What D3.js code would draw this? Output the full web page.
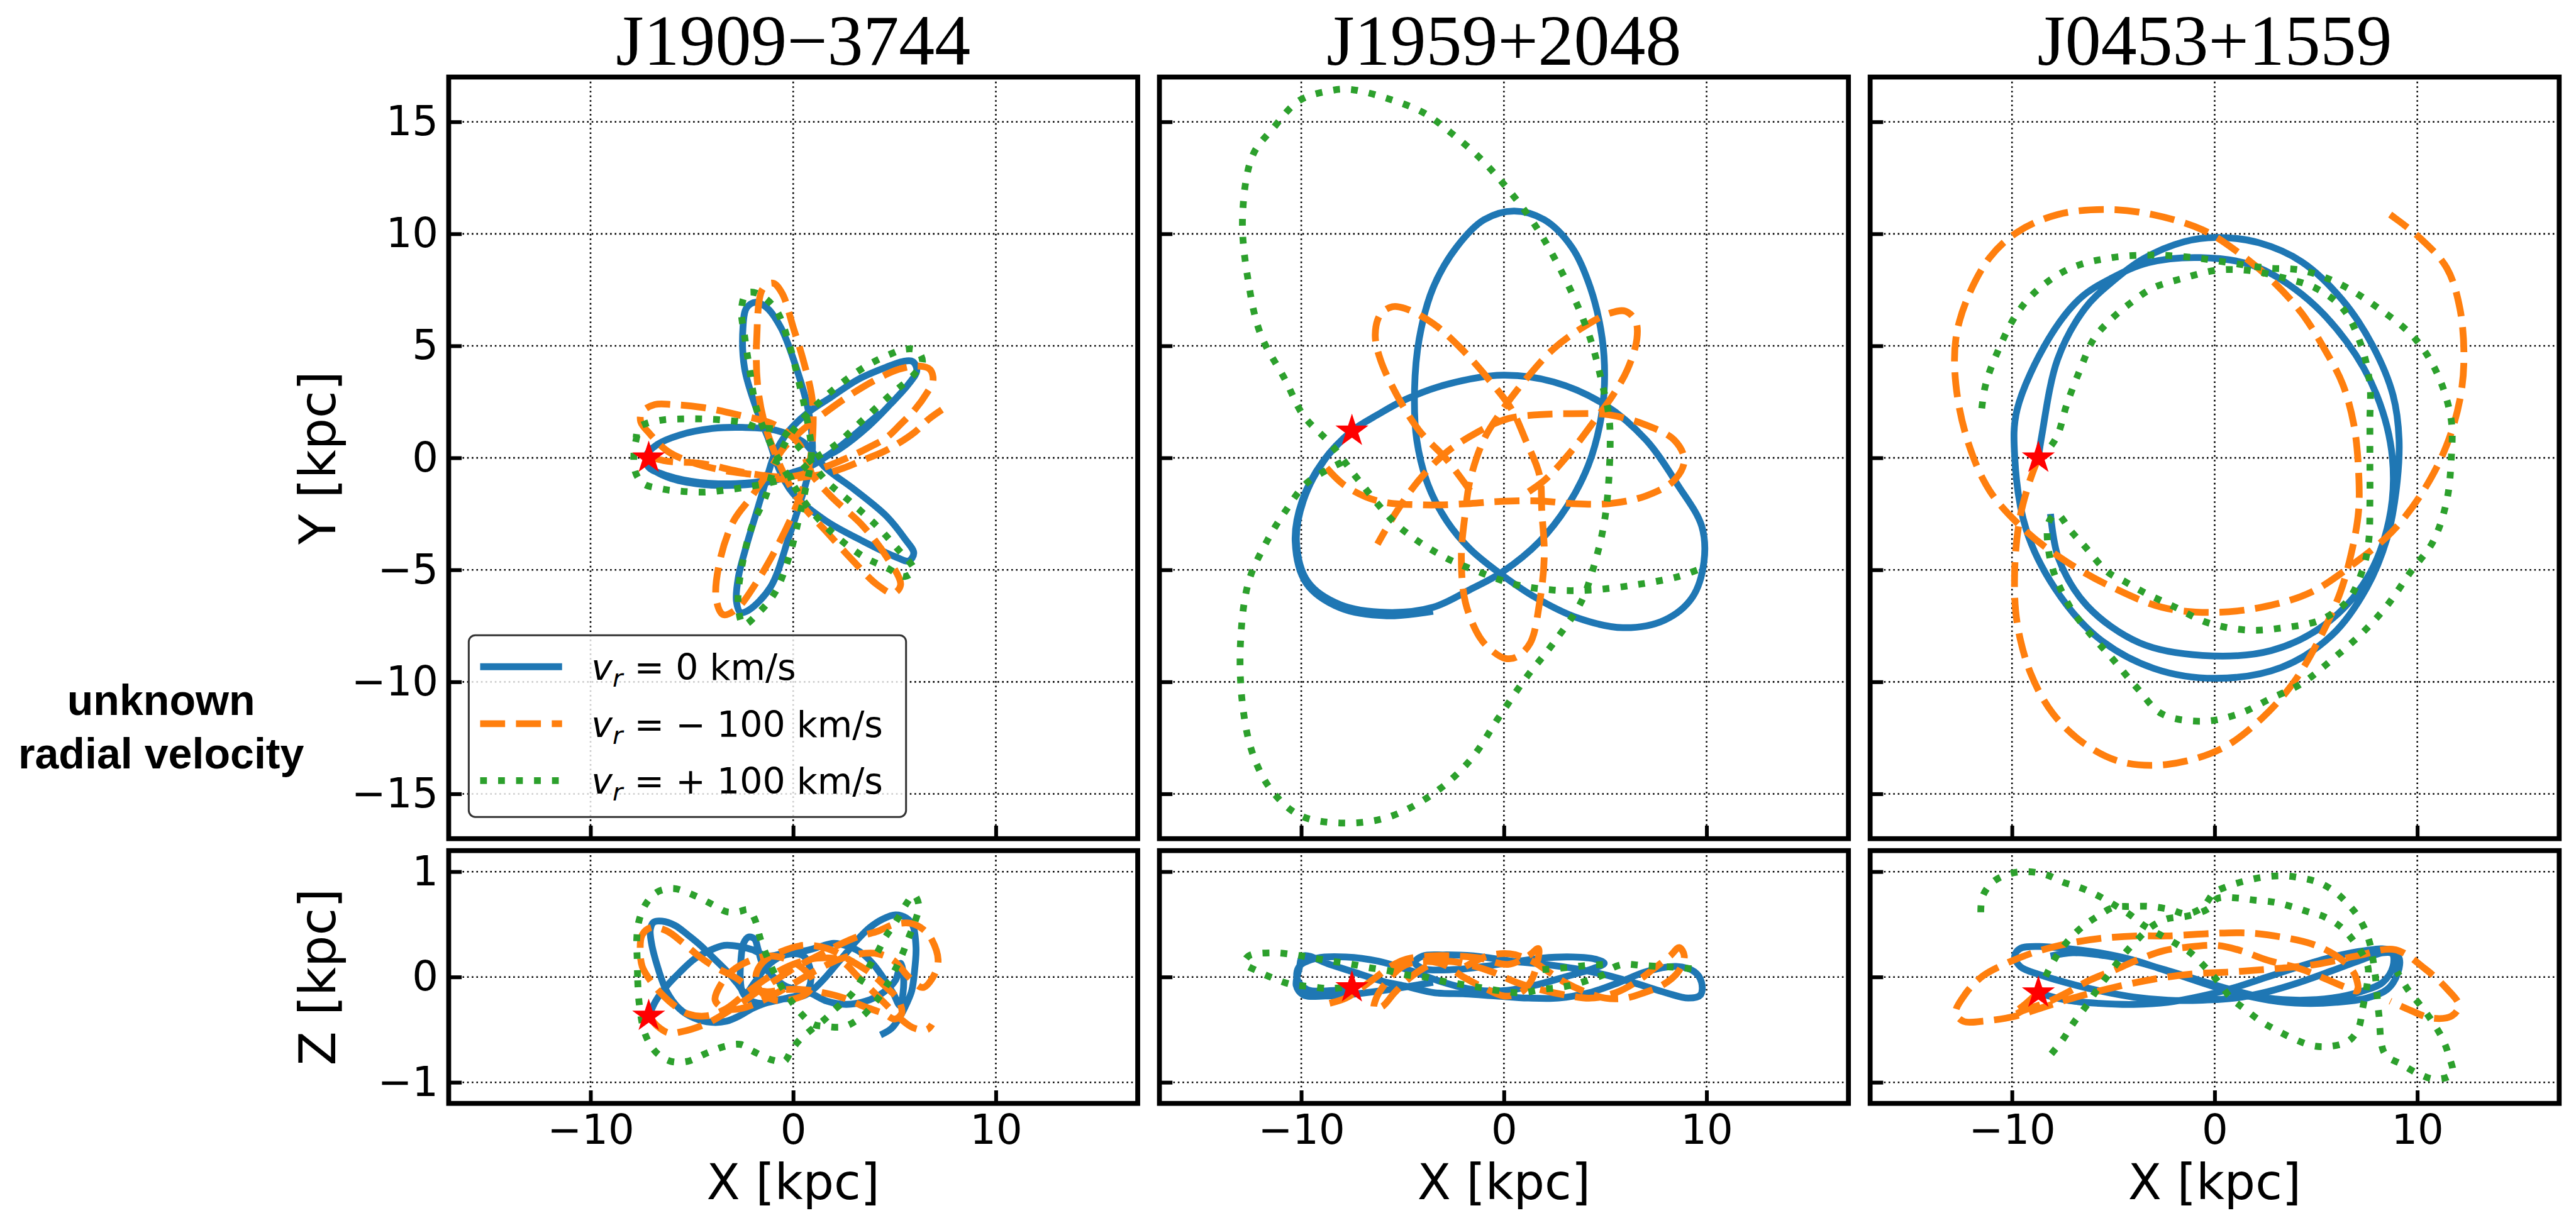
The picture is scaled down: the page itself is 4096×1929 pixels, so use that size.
<!DOCTYPE html>
<html>
<head>
<meta charset="utf-8">
<script src="https://cdn.jsdelivr.net/npm/d3@7"></script>
<style>
  body { margin: 0; background: #fff; }
</style>
</head>
<body>
<svg id="fig"></svg>
<script>
// ---- ticks / labels ----
var titles = ["J1909\u22123744", "J1959+2048", "J0453+1559"];
var xTicks = [-10, 0, 10];
var yTicks = [-15, -10, -5, 0, 5, 10, 15];
var zTicks = [-1, 0, 1];
var legendLabels = ["0", "\u2212 100", "+ 100"];
var seriesColors = ["#1f77b4", "#ff7f0e", "#2ca02c"];

// pulsar positions (x, y, z) in kpc
var stars = [[-7.13, 0.0, -0.37], [-7.5, 1.2, -0.1], [-8.7, 0.0, -0.15]];

// ---- J1909-3744 ----
var j1909_xy_0 = [[[-7.2,0.0],[-7.0,-0.45],[-6.15,-0.88],[-4.55,-1.18],[-2.72,-1.22],[-1.35,-1.1],[-0.3,-0.85],[0.5,-0.6],[1.3,-0.1],[2.3,0.4],[3.7,1.4],[4.8,2.4],[5.7,3.3],[6.1,3.9],[5.9,4.3],[5.4,4.3],[4.6,4.05],[3.2,3.5],[1.85,2.7],[0.7,2.0],[-0.3,1.1],[-0.9,0.2],[-1.3,-0.9],[-1.8,-2.4],[-2.3,-3.9],[-2.7,-5.3],[-2.8,-6.4],[-2.6,-6.9],[-2.2,-6.8],[-1.12,-5.77],[-0.2,-3.5],[0.37,-1.92],[0.75,-0.7],[0.95,0.4],[0.75,2.1],[0.05,4.3],[-0.6,5.8],[-1.3,6.7],[-1.85,6.95],[-2.3,6.7],[-2.48,5.8],[-2.4,4.0],[-1.8,2.15],[-1.2,0.8],[-0.7,-0.5],[0.0,-1.6],[1.6,-2.8],[3.4,-3.7],[5.0,-4.4],[5.7,-4.6],[5.95,-4.25],[5.5,-3.6],[4.6,-2.6],[3.0,-1.4],[1.6,-0.45],[0.5,0.7],[-0.8,1.22],[-2.5,1.36],[-4.0,1.31],[-5.6,1.02],[-6.7,0.6],[-7.25,0.1],[-7.15,-0.4],[-6.2,-0.8],[-4.6,-1.1],[-2.8,-1.15],[-1.3,-1.0],[-0.2,-0.7],[0.9,-0.35],[2.3,0.5],[3.5,1.4],[4.3,2.0]]];
var j1909_xy_m100 = [[[-7.13,0.05],[-6.2,-0.15],[-4.55,-0.25],[-2.72,-0.6],[-1.35,-0.8],[-0.2,-0.85],[0.6,-0.7],[1.6,-0.4],[2.8,0.05],[3.7,0.45],[4.6,0.9],[5.3,1.5],[6.0,2.15],[6.6,2.9],[6.9,3.45],[6.75,3.95],[6.2,4.1],[5.2,3.95],[4.1,3.5],[2.8,2.8],[1.4,1.9],[0.4,1.2],[-0.5,0.4],[-1.2,-0.6],[-2.03,-1.7],[-2.95,-2.83],[-3.63,-4.64],[-3.8,-6.3],[-3.45,-7.0],[-2.8,-6.75],[-1.8,-5.54],[-0.66,-3.73],[0.25,-1.92],[0.75,-0.5],[0.95,0.8],[0.94,2.6],[0.48,4.41],[0.02,5.77],[-0.55,7.35],[-1.0,7.8],[-1.5,7.55],[-1.8,5.32],[-1.76,3.28],[-1.46,1.7],[-0.9,0.2],[-0.3,-1.0],[0.48,-2.15],[1.62,-3.28],[3.0,-4.64],[4.14,-5.66],[4.94,-6.05],[5.3,-5.66],[4.6,-4.41],[3.45,-3.05],[1.85,-1.7],[0.9,-0.7],[0.3,0.6],[-0.9,1.47],[-2.72,1.92],[-4.55,2.26],[-5.92,2.38],[-6.83,2.38],[-7.47,2.04],[-7.52,1.6],[-7.1,1.1],[-6.2,0.3],[-5.0,-0.2],[-3.5,-0.55],[-2.0,-0.75],[-0.6,-0.95],[0.6,-0.85],[1.6,-0.7],[2.5,-0.45],[3.45,-0.1],[4.4,0.25],[5.05,0.57],[6.0,1.15],[6.65,1.7],[7.34,2.15]]];
var j1909_xy_p100 = [[[-7.7,1.0],[-7.85,0.3],[-7.8,-0.6],[-7.4,-1.15],[-6.4,-1.4],[-5.4,-1.5],[-4.4,-1.53],[-3.4,-1.45],[-2.3,-1.3],[-1.1,-1.1],[0.1,-0.75],[0.94,-0.11],[2.08,0.57],[3.45,1.7],[4.82,2.83],[5.97,3.73],[6.38,4.3],[6.1,4.8],[5.5,4.85],[4.82,4.64],[3.68,4.14],[2.31,3.28],[1.17,2.38],[-0.1,1.1],[-0.9,-0.3],[-1.35,-1.7],[-2.03,-3.05],[-2.49,-4.64],[-2.72,-6.45],[-2.45,-7.45],[-1.8,-7.0],[-0.89,-6.0],[-0.2,-4.41],[0.25,-2.83],[0.59,-1.47],[0.9,0.2],[0.59,2.15],[0.25,3.5],[-0.2,5.09],[-0.89,6.67],[-1.8,7.35],[-2.3,7.35],[-2.55,6.67],[-2.38,5.32],[-2.15,3.96],[-1.8,2.15],[-1.1,0.6],[-0.2,-0.9],[0.71,-2.15],[1.85,-3.28],[3.45,-4.4],[4.6,-4.9],[5.5,-5.3],[5.95,-5.0],[5.6,-4.5],[5.28,-4.19],[4.14,-3.05],[2.77,-1.92],[1.62,-1.02],[0.5,0.25],[-0.6,1.2],[-1.8,1.36],[-2.49,1.58],[-3.63,1.7],[-4.55,1.74],[-5.46,1.74],[-6.38,1.7],[-7.2,1.55],[-7.63,1.36],[-7.75,0.9]]];

var j1909_xz_0 = [[[-7.12,-0.37],[-6.79,-0.23],[-6.26,-0.09],[-5.62,0.04],[-4.88,0.17],[-4.14,0.25],[-3.40,0.30],[-2.66,0.29],[-2.03,0.26],[-1.3,0.2],[-0.6,0.22],[0.0,0.25],[0.6,0.25],[1.35,0.29],[1.99,0.32],[2.73,0.29],[3.36,0.23],[4.0,0.11],[4.52,-0.03],[4.95,-0.16],[5.26,-0.27],[5.42,-0.15],[5.42,0.05],[5.3,0.13],[5.05,-0.03],[4.42,-0.15],[3.57,-0.23],[2.62,-0.26],[1.67,-0.23],[0.82,-0.15],[0.3,-0.12],[-0.34,-0.09],[-0.97,0.0],[-1.5,0.12],[-1.73,0.26],[-1.9,0.36],[-2.19,0.38],[-2.45,0.32],[-2.58,0.16],[-2.61,-0.01],[-2.51,-0.14],[-2.14,-0.22],[-1.61,-0.25],[-0.97,-0.23],[-0.3,-0.2],[0.3,-0.17],[0.72,-0.12],[0.88,-0.01],[0.77,0.12],[0.51,0.2],[-0.13,0.22],[-0.76,0.18],[-1.4,0.08],[-1.9,-0.05],[-2.35,-0.15],[-2.77,-0.06],[-3.3,0.06],[-3.93,0.18],[-4.57,0.30],[-5.2,0.40],[-5.84,0.49],[-6.47,0.53],[-6.89,0.52],[-7.05,0.45],[-7.0,0.33],[-6.79,0.16],[-6.26,-0.13],[-5.62,-0.30],[-4.88,-0.39],[-4.04,-0.43],[-3.3,-0.42],[-2.66,-0.37],[-2.03,-0.30],[-1.4,-0.25],[-0.55,-0.21],[0.08,-0.2],[0.61,-0.17],[1.04,-0.11],[1.56,-0.01],[2.09,0.11],[2.62,0.23],[3.15,0.35],[3.78,0.47],[4.42,0.55],[5.05,0.59],[5.58,0.56],[5.9,0.49],[6.06,0.28],[6.0,0.08],[5.85,-0.13],[5.58,-0.26],[5.26,-0.38],[4.84,-0.49],[4.31,-0.55]]];
var j1909_xz_m100 = [[[-7.13,-0.37],[-6.68,-0.47],[-6.15,-0.53],[-5.52,-0.52],[-4.36,-0.45],[-3.5,-0.36],[-2.6,-0.25],[-1.7,-0.13],[-0.8,-0.02],[0.2,0.1],[1.2,0.2],[2.2,0.3],[3.15,0.38],[4.1,0.43],[5.0,0.5],[5.8,0.51],[6.43,0.45],[6.85,0.35],[7.15,0.15],[6.9,0.0],[6.4,-0.1],[5.7,0.0],[5.0,0.15],[4.2,0.22],[3.3,0.22],[2.3,0.17],[1.3,0.08],[0.3,-0.03],[-0.7,-0.14],[-1.7,-0.24],[-2.6,-0.3],[-3.4,-0.3],[-3.85,-0.22],[-3.6,-0.08],[-3.0,0.06],[-2.2,0.15],[-1.2,0.2],[-0.2,0.16],[0.6,0.06],[1.0,-0.05],[0.7,-0.15],[0.0,-0.21],[-0.9,-0.22],[-1.6,-0.14],[-1.85,0.0],[-1.5,0.14],[-0.6,0.24],[0.5,0.3],[1.7,0.27],[2.8,0.16],[3.8,0.04],[4.6,-0.1],[5.2,-0.22],[5.35,-0.35],[5.0,-0.4],[4.5,-0.35],[3.5,-0.28],[2.5,-0.2],[1.5,-0.15],[0.5,-0.12],[-0.5,-0.12],[-1.3,-0.14],[-2.1,-0.1],[-2.9,0.0],[-3.9,0.1],[-4.67,0.2],[-5.41,0.32],[-6.26,0.44],[-7.0,0.47],[-7.45,0.4],[-7.55,0.25],[-7.45,0.1],[-7.1,-0.02],[-6.5,-0.16],[-5.8,-0.28],[-5.2,-0.35],[-4.3,-0.37],[-3.3,-0.3],[-2.3,-0.15],[-1.2,0.0],[0.0,0.12],[1.2,0.18],[2.3,0.16],[3.26,-0.01],[4.52,-0.25],[5.2,-0.38],[5.9,-0.48],[6.6,-0.5],[6.85,-0.45]]];
var j1909_xz_p100 = [[[-7.68,0.0],[-7.7,0.18],[-7.72,0.36],[-7.6,0.54],[-7.25,0.7],[-6.68,0.81],[-5.9,0.84],[-5.2,0.8],[-4.5,0.74],[-3.9,0.68],[-3.3,0.62],[-2.7,0.62],[-2.2,0.64],[-1.9,0.55],[-1.6,0.35],[-1.2,0.15],[-0.7,-0.05],[-0.2,-0.2],[0.4,-0.35],[1.0,-0.45],[1.67,-0.47],[2.52,-0.47],[3.36,-0.38],[4.0,-0.25],[4.52,-0.11],[4.95,0.04],[5.37,0.21],[5.69,0.37],[6.0,0.52],[6.2,0.68],[5.95,0.78],[5.6,0.7],[5.3,0.6],[4.95,0.49],[4.52,0.37],[4.2,0.25],[3.78,0.11],[3.36,-0.03],[2.94,-0.15],[2.52,-0.23],[2.09,-0.3],[1.56,-0.4],[0.9,-0.5],[0.3,-0.6],[-0.1,-0.7],[-0.44,-0.8],[-1.0,-0.79],[-1.4,-0.76],[-2.03,-0.7],[-2.6,-0.64],[-3.4,-0.66],[-4.36,-0.73],[-5.2,-0.8],[-6.05,-0.8],[-6.79,-0.71],[-7.31,-0.54],[-7.6,-0.25],[-7.68,0.0]]];

// ---- J1959+2048 ----
var j1959_xy_0 = [[[-3.5,-6.85],[-5.78,-7.05],[-8.07,-6.7],[-9.75,-5.6],[-10.3,-3.73],[-9.95,-1.9],[-8.9,-0.12],[-7.5,1.2],[-6.24,1.92],[-4.87,2.6],[-2.81,3.28],[-0.07,3.69],[2.45,3.39],[4.96,2.38],[7.02,0.79],[8.6,-1.24],[9.76,-3.05],[9.87,-4.64],[9.3,-6.22],[7.93,-7.24],[5.87,-7.58],[3.59,-7.13],[1.53,-6.22],[-0.3,-5.09],[-1.67,-4.07],[-2.81,-2.83],[-3.73,-1.24],[-4.3,0.79],[-4.41,3.05],[-4.18,5.32],[-3.5,7.58],[-2.35,9.39],[-0.98,10.63],[0.5,11.02],[1.99,10.63],[3.36,9.39],[4.27,7.58],[4.85,5.32],[4.96,3.28],[4.73,1.47],[4.16,-0.34],[3.13,-2.15],[1.76,-3.73],[-0.07,-5.09],[-1.67,-5.88],[-3.5,-6.67],[-5.78,-6.9],[-8.07,-6.56],[-9.67,-5.54],[-10.24,-3.73],[-9.9,-1.92],[-8.87,-0.11],[-7.5,1.2]]];
var j1959_xy_m100 = [
  [[-8.75,-0.45],[-7.84,-1.24],[-6.24,-1.92],[-3.95,-2.1],[-1.67,-2.04],[-0.3,-1.95],[1.76,-1.92],[3.36,-2.04],[5.2,-2.04],[7.0,-1.7],[8.4,-1.0],[8.9,-0.1],[8.4,0.8],[7.0,1.47],[5.2,1.92],[3.36,1.97],[1.76,1.93],[0.2,1.75],[-1.4,1.1],[-2.9,0.2],[-4.2,-1.0],[-5.3,-2.4],[-6.24,-3.85]],
  [[-1.67,-1.47],[-2.8,-0.1],[-4.2,1.24],[-5.3,2.83],[-6.1,4.4],[-6.35,5.5],[-6.1,6.4],[-5.5,6.75],[-4.87,6.67],[-3.5,6.0],[-2.1,4.87],[-0.75,3.5],[0.39,2.15],[1.07,0.79],[1.76,-0.79],[1.87,-2.4],[1.99,-4.4],[1.76,-6.45],[1.3,-8.26],[0.6,-8.9],[0.05,-8.95],[-0.6,-8.6],[-1.2,-8.0],[-1.9,-6.45],[-2.1,-4.4],[-1.9,-2.4],[-1.67,-1.0],[-1.0,0.8],[-0.07,2.15],[1.07,3.5],[2.45,4.87],[3.8,5.77],[5.2,6.45],[6.0,6.55],[6.5,6.1],[6.56,5.3],[6.1,3.96],[5.4,2.83],[4.5,1.7],[3.36,0.34],[2.0,-1.0],[0.8,-1.75]]
];
var j1959_xy_p100 = [[[-8.0,-0.2],[-9.7,-1.1],[-10.8,-2.4],[-11.7,-3.73],[-12.6,-5.54],[-13.0,-8.26],[-12.9,-11.0],[-12.4,-13.2],[-11.5,-14.8],[-10.1,-15.95],[-8.07,-16.3],[-5.78,-16.06],[-3.5,-15.0],[-1.67,-13.5],[-0.3,-11.65],[1.07,-9.84],[2.45,-8.26],[3.8,-6.45],[4.5,-4.64],[4.96,-2.83],[5.2,-0.57],[5.2,1.7],[4.85,3.3],[4.27,5.3],[3.36,7.35],[2.2,9.4],[1.3,10.7],[0.1,12.1],[-1.2,13.4],[-2.6,14.5],[-3.95,15.4],[-5.8,16.06],[-7.6,16.45],[-8.5,16.4],[-10.1,15.95],[-11.4,14.7],[-12.4,13.5],[-12.9,10.7],[-12.6,7.8],[-12.0,5.5],[-10.8,3.5],[-9.9,1.9],[-8.5,0.57],[-7.15,-1.02],[-5.2,-3.05],[-3.0,-4.4],[-1.2,-5.1],[0.6,-5.66],[2.45,-5.9],[4.27,-5.9],[6.56,-5.66],[8.6,-5.3],[9.6,-4.98]]];

var j1959_xz_0 = [[[-3.5,-0.05],[-5.7,-0.12],[-7.3,-0.16],[-8.8,-0.18],[-9.9,-0.17],[-10.25,-0.08],[-10.1,0.08],[-9.9,0.2],[-8.6,0.12],[-7.3,0.04],[-6.0,-0.04],[-4.8,-0.09],[-3.4,-0.15],[-1.9,-0.16],[-0.4,-0.18],[1.2,-0.2],[2.7,-0.2],[4.2,-0.15],[5.7,-0.05],[7.0,0.05],[8.5,0.1],[9.4,0.05],[9.75,-0.05],[9.7,-0.17],[9.1,-0.2],[8.0,-0.15],[6.5,-0.06],[5.0,0.02],[3.5,0.08],[2.0,0.12],[0.4,0.15],[-1.5,0.2],[-3.0,0.21],[-4.0,0.2],[-4.4,0.14],[-4.0,0.08],[-2.5,0.07],[-1.0,0.1],[0.4,0.14],[1.9,0.18],[3.4,0.19],[4.5,0.17],[4.95,0.13],[4.4,0.08],[3.0,0.0],[1.5,-0.08],[0.0,-0.13],[-1.5,-0.12],[-3.0,-0.05],[-4.6,0.06],[-6.2,0.15],[-7.8,0.19],[-9.2,0.18],[-10.1,0.1],[-10.2,-0.02],[-9.7,-0.12],[-8.6,-0.13],[-7.5,-0.1]]];
var j1959_xz_m100 = [[[-8.6,-0.25],[-7.8,-0.2],[-7.0,-0.1],[-6.3,0.0],[-5.6,0.1],[-4.8,0.17],[-3.6,0.2],[-2.4,0.2],[-1.2,0.18],[0.2,0.12],[1.2,0.2],[1.7,0.27],[1.6,0.1],[1.3,-0.05],[0.8,-0.15],[0.0,-0.18],[-1.0,-0.1],[-2.0,0.0],[-3.0,0.12],[-4.0,0.15],[-5.0,0.1],[-5.8,-0.05],[-6.3,-0.2],[-6.4,-0.3],[-6.0,-0.28],[-5.4,-0.15],[-4.6,0.0],[-3.6,0.12],[-2.8,0.15],[-1.8,0.12],[-0.6,0.05],[0.6,-0.05],[1.8,-0.12],[3.0,-0.17],[4.3,-0.2],[5.5,-0.15],[6.5,-0.05],[7.4,0.08],[8.2,0.2],[8.65,0.28],[8.9,0.2],[8.6,0.05],[7.8,-0.08],[6.9,-0.15],[6.0,-0.2],[5.0,-0.2],[4.0,-0.14],[3.0,-0.05],[2.2,0.05],[1.4,0.15],[0.3,0.22],[-0.8,0.2],[-1.9,0.1]]];
var j1959_xz_p100 = [
  [[-8.0,-0.1],[-8.6,-0.11],[-9.6,-0.09],[-10.5,-0.07],[-11.4,-0.01],[-12.2,0.06],[-12.8,0.13],[-12.6,0.2],[-11.4,0.23],[-10.3,0.21],[-9.4,0.18],[-8.5,0.15],[-7.6,0.125],[-6.7,0.09],[-5.7,0.06],[-4.8,0.02],[-3.9,0.0],[-3.0,-0.04],[-2.1,-0.07],[-1.15,-0.1],[-0.23,-0.13],[0.84,-0.15],[1.8,-0.12],[2.7,-0.1],[3.5,-0.07],[4.3,-0.02],[5.0,0.03],[5.3,0.08],[5.9,0.12],[6.8,0.11],[7.7,0.1],[8.65,0.09],[9.57,0.07]],
  [[1.9,0.07],[3.1,0.09],[4.1,0.11],[5.0,0.12]]
];

// ---- J0453+1559 ----
var j0453_xy_0 = [[[-8.7,0.0],[-8.53,1.0],[-7.75,4.4],[-6.4,6.67],[-5.07,7.85],[-3.5,8.9],[-1.5,9.65],[0.07,9.84],[2.2,9.6],[4.3,8.75],[6.3,7.05],[7.8,5.0],[8.8,2.8],[9.1,0.8],[8.95,-1.5],[8.5,-3.6],[7.5,-5.8],[5.8,-7.9],[3.3,-9.35],[0.07,-9.84],[-3.0,-9.4],[-5.8,-8.0],[-7.9,-5.8],[-9.3,-3.2],[-9.87,0.1],[-9.75,2.15],[-8.2,5.3],[-6.63,7.13],[-5.07,8.03],[-3.28,8.71],[-0.71,8.94],[1.85,8.6],[4.3,7.3],[6.5,5.2],[8.0,2.8],[8.77,0.0],[8.6,-2.8],[7.5,-5.4],[5.5,-7.4],[2.8,-8.6],[-0.6,-8.82],[-3.7,-8.26],[-6.3,-6.6],[-7.7,-4.5],[-8.1,-2.5]]];
var j0453_xy_m100 = [[[-8.7,0.0],[-9.2,-1.24],[-9.64,-2.83],[-9.87,-5.09],[-9.75,-7.35],[-9.08,-9.62],[-7.97,-11.43],[-6.4,-12.78],[-4.62,-13.57],[-2.39,-13.69],[0.29,-13.0],[2.3,-11.65],[3.86,-10.07],[5.2,-8.03],[6.2,-6.0],[6.76,-4.19],[7.1,-2.38],[7.1,-0.57],[6.87,1.47],[6.32,3.28],[5.42,4.86],[4.3,6.45],[2.97,7.8],[1.18,9.16],[-0.6,10.18],[-3.06,10.86],[-5.29,11.09],[-7.75,10.86],[-9.75,10.07],[-11.1,8.94],[-12.2,7.13],[-12.77,5.32],[-12.77,3.28],[-12.2,0.79],[-11.1,-1.47],[-9.3,-3.28],[-7.3,-4.64],[-5.07,-5.77],[-2.6,-6.67],[-0.16,-6.9],[2.3,-6.67],[4.75,-6.0],[6.99,-4.64],[8.77,-3.28],[10.3,-1.47],[11.45,0.57],[12.1,2.6],[12.3,4.41],[12.1,6.67],[11.45,8.48],[10.1,9.84],[8.66,10.86]]];
var j0453_xy_p100 = [[[-8.7,0.0],[-8.2,0.4],[-7.75,1.02],[-7.3,2.38],[-6.63,3.96],[-5.96,5.32],[-5.07,6.22],[-4.17,6.9],[-3.06,7.58],[-1.5,8.03],[0.07,8.37],[1.63,8.37],[3.42,8.03],[4.98,7.58],[6.32,6.67],[7.2,5.1],[7.66,3.28],[7.66,1.7],[7.66,-0.11],[7.66,-1.92],[7.6,-3.73],[7.3,-5.0],[6.54,-6.4],[5.2,-7.24],[3.42,-7.58],[1.63,-7.69],[-0.38,-7.35],[-1.94,-6.67],[-3.5,-6.0],[-4.4,-5.54],[-5.29,-5.09],[-6.4,-3.96],[-7.08,-3.28],[-7.8,-2.5],[-8.2,-2.9],[-8.1,-4.6],[-7.3,-6.4],[-6.4,-7.58],[-5.07,-8.94],[-3.8,-10.3],[-2.6,-11.43],[-0.6,-11.76],[1.18,-11.43],[2.75,-10.75],[4.3,-10.07],[5.8,-9.0],[7.3,-7.8],[8.5,-6.6],[9.67,-5.09],[10.78,-3.73],[11.45,-1.92],[11.67,-0.11],[11.67,1.7],[11.0,3.73],[9.89,5.32],[8.1,6.67],[6.09,7.8],[4.3,8.37],[2.52,8.48],[0.74,8.71],[-1.05,8.94],[-3.06,9.05],[-5.07,8.94],[-7.08,8.48],[-8.64,7.58],[-9.75,6.45],[-10.65,4.86],[-11.3,3.28],[-11.54,1.81]]];

var j0453_xz_0 = [[[-8.7,-0.15],[-7.3,-0.22],[-5.7,-0.25],[-4.0,-0.26],[-2.3,-0.24],[-0.6,-0.18],[1.0,-0.1],[2.6,0.0],[4.2,0.1],[5.8,0.19],[7.4,0.25],[8.6,0.26],[9.1,0.18],[9.0,0.02],[8.5,-0.12],[7.5,-0.2],[6.0,-0.24],[4.4,-0.25],[2.7,-0.22],[1.0,-0.15],[-0.7,-0.05],[-2.4,0.06],[-4.0,0.16],[-5.7,0.23],[-7.3,0.27],[-8.7,0.29],[-9.6,0.27],[-9.87,0.2],[-9.6,0.1],[-8.6,0.02],[-7.2,-0.06],[-5.7,-0.13],[-4.0,-0.19],[-2.3,-0.22],[-0.6,-0.22],[1.0,-0.2],[2.6,-0.14],[4.2,-0.05],[5.8,0.06],[7.2,0.16],[8.3,0.23],[8.77,0.22],[8.8,0.1],[8.3,-0.05],[7.2,-0.14],[5.8,-0.2],[4.2,-0.22],[2.6,-0.2],[1.0,-0.13],[-0.6,-0.04],[-2.3,0.06],[-4.0,0.15],[-5.7,0.21],[-7.0,0.23],[-8.1,0.2]]];
var j0453_xz_m100 = [[[-8.72,-0.15],[-9.3,-0.25],[-9.8,-0.33],[-9.9,-0.36],[-9.47,-0.32],[-8.15,-0.23],[-7.3,-0.15],[-6.16,-0.03],[-4.83,0.075],[-3.84,0.16],[-2.5,0.25],[-1.52,0.28],[0.13,0.3],[1.3,0.25],[2.6,0.16],[4.27,0.075],[5.5,-0.02],[6.5,-0.1],[7.05,-0.13],[7.0,-0.02],[6.75,0.075],[5.93,0.21],[4.77,0.315],[2.6,0.4],[1.29,0.42],[-0.5,0.41],[-2.35,0.39],[-3.84,0.39],[-5.66,0.366],[-7.3,0.315],[-8.97,0.23],[-10.5,0.11],[-11.46,0.007],[-12.3,-0.16],[-12.78,-0.34],[-12.4,-0.42],[-11.46,-0.42],[-9.8,-0.37],[-8.5,-0.29],[-7.0,-0.2],[-5.0,-0.1],[-3.0,-0.02],[-1.0,0.03],[1.0,0.05],[3.0,0.08],[5.0,0.12],[7.0,0.2],[8.9,0.26],[10.4,0.075],[11.4,-0.1],[12.05,-0.27],[11.7,-0.37],[10.7,-0.39],[9.7,-0.32],[8.66,-0.23]]];
var j0453_xz_p100 = [
  [[-8.7,-0.15],[-8.23,0.05],[-7.8,0.2],[-7.3,0.33],[-6.57,0.47],[-5.83,0.57],[-5.0,0.66],[-4.17,0.67],[-3.18,0.67],[-2.19,0.64],[-1.4,0.6],[-0.6,0.66],[-0.03,0.8],[0.63,0.86],[1.46,0.91],[2.45,0.95],[3.44,0.96],[4.27,0.94],[5.1,0.9],[5.93,0.81],[6.59,0.69],[7.09,0.57],[7.58,0.37],[7.9,0.05],[8.1,-0.35],[8.4,-0.73],[9.24,-0.83],[10.07,-0.92],[10.9,-0.97],[11.72,-0.92],[11.56,-0.75],[11.23,-0.58],[10.73,-0.42],[10.2,-0.28],[9.57,-0.13],[9.0,0.05]],
  [[-8.06,-0.73],[-7.48,-0.59],[-6.98,-0.44],[-6.32,-0.27],[-5.83,-0.13],[-5.17,0.04],[-4.5,0.21],[-3.84,0.35],[-3.18,0.47],[-2.4,0.55],[-1.3,0.58],[-0.3,0.65],[0.13,0.745],[1.13,0.75],[1.95,0.73],[2.95,0.71],[3.77,0.67],[4.6,0.62],[5.43,0.57],[6.26,0.47],[6.9,0.33],[7.4,0.18],[7.58,0.075],[7.5,-0.1],[7.3,-0.3],[7.09,-0.49],[6.59,-0.61],[5.6,-0.66],[4.77,-0.65],[3.94,-0.59],[3.1,-0.51],[2.28,-0.42],[1.46,-0.3],[0.8,-0.2],[0.2,-0.05],[-0.5,0.1],[-1.19,0.23],[-1.85,0.31],[-2.68,0.4],[-3.5,0.49],[-4.17,0.59],[-5.0,0.69],[-5.83,0.78],[-6.65,0.85],[-7.48,0.9],[-8.3,0.97],[-9.22,1.0],[-10.13,0.98],[-10.96,0.9],[-11.46,0.76],[-11.54,0.59]]
];

var xyData = [
  [j1909_xy_0, j1909_xy_m100, j1909_xy_p100],
  [j1959_xy_0, j1959_xy_m100, j1959_xy_p100],
  [j0453_xy_0, j0453_xy_m100, j0453_xy_p100]
];
var xzData = [
  [j1909_xz_0, j1909_xz_m100, j1909_xz_p100],
  [j1959_xz_0, j1959_xz_m100, j1959_xz_p100],
  [j0453_xz_0, j0453_xz_m100, j0453_xz_p100]
];

// ---- layout, in reference pixels (viewBox does the 0.862 scaling) ----
var W = 1270
var panelLeft = [827, 2137, 3447]
var topY = 142, topH = 1404
var botY = 1568, botH = 466
var lw = 12.5
var dashes = [null, "46,20", "12.5,20.6"]
var tickFont = "'DejaVu Sans', sans-serif"

var svg = d3.select("#fig")
    .attr("width", 4096)
    .attr("height", 1929)
    .attr("viewBox", "0 0 4748 2236")
svg.append("rect").attr("width", 4748).attr("height", 2236).attr("fill", "#fff")
var defs = svg.append("defs")

function drawPanel(id, left, top, h, yDomain, yTickVals, series, starPt, showY, showX) {
  var x = d3.scaleLinear().domain([-17, 17]).range([left, left + W])
  var y = d3.scaleLinear().domain(yDomain).range([top + h, top])

  defs.append("clipPath").attr("id", id)
    .append("rect").attr("x", left).attr("y", top).attr("width", W).attr("height", h)

  var g = svg.append("g")

  // dotted grid
  g.append("g").selectAll("line").data(xTicks).join("line")
      .attr("x1", function(d) { return x(d) }).attr("x2", function(d) { return x(d) })
      .attr("y1", top).attr("y2", top + h)
  g.append("g").selectAll("line").data(yTickVals).join("line")
      .attr("x1", left).attr("x2", left + W)
      .attr("y1", function(d) { return y(d) }).attr("y2", function(d) { return y(d) })
  g.selectAll("line")
      .attr("stroke", "#000").attr("stroke-width", 3).attr("stroke-dasharray", "3,5.5")

  // orbits
  var cg = g.append("g").attr("clip-path", "url(#" + id + ")")
  var line = d3.line()
      .x(function(d) { return x(d[0]) })
      .y(function(d) { return y(d[1]) })
      .curve(d3.curveCatmullRom.alpha(0.5))
  series.forEach(function(strokes, k) {
    cg.append("g").selectAll("path").data(strokes).join("path")
        .attr("d", line)
        .attr("fill", "none")
        .attr("stroke", seriesColors[k])
        .attr("stroke-width", lw)
        .attr("stroke-linejoin", "round")
        .attr("stroke-dasharray", dashes[k])
  })

  // pulsar position
  cg.append("path")
      .attr("d", d3.symbol(d3.symbolStar, 1150))
      .attr("transform", "translate(" + x(starPt[0]) + "," + y(starPt[1]) + ")")
      .attr("fill", "#ff0000")

  // ticks (inward), labels only where matplotlib shows them
  var ax = g.append("g").attr("transform", "translate(0," + (top + h) + ")")
      .call(d3.axisBottom(x).tickValues(xTicks).tickSize(-24).tickPadding(20)
        .tickFormat(showX ? d3.format("d") : function() { return "" }))
  var ay = g.append("g").attr("transform", "translate(" + left + ",0)")
      .call(d3.axisLeft(y).tickValues(yTickVals).tickSize(-24).tickPadding(19)
        .tickFormat(showY ? d3.format("d") : function() { return "" }))
  ;[ax, ay].forEach(function(a) {
    a.select(".domain").remove()
    a.selectAll(".tick line").attr("stroke", "#000").attr("stroke-width", 7)
    a.selectAll(".tick text").attr("fill", "#000")
    a.attr("font-size", 76).attr("font-family", tickFont)
  })

  // frame
  g.append("rect").attr("x", left).attr("y", top).attr("width", W).attr("height", h)
      .attr("fill", "none").attr("stroke", "#000").attr("stroke-width", 9)
}

for (var i = 0; i < 3; i++) {
  drawPanel("cxy" + i, panelLeft[i], topY, topH, [-17, 17], yTicks, xyData[i],
            [stars[i][0], stars[i][1]], i == 0, false)
  drawPanel("cxz" + i, panelLeft[i], botY, botH, [-1.2, 1.2], zTicks, xzData[i],
            [stars[i][0], stars[i][2]], i == 0, true)

  svg.append("text")
      .attr("x", panelLeft[i] + W / 2).attr("y", 119)
      .attr("text-anchor", "middle")
      .attr("font-family", "'Liberation Serif', 'Times New Roman', serif")
      .attr("font-size", 132)
      .text(titles[i])

  svg.append("text")
      .attr("x", panelLeft[i] + W / 2).attr("y", 2211)
      .attr("text-anchor", "middle")
      .attr("font-family", tickFont)
      .attr("font-size", 90)
      .text("X [kpc]")
}

// y axis labels
;[["Y [kpc]", topY + topH / 2], ["Z [kpc]", botY + botH / 2]].forEach(function(d) {
  svg.append("text")
      .attr("transform", "translate(618," + d[1] + ") rotate(-90)")
      .attr("text-anchor", "middle")
      .attr("font-family", tickFont)
      .attr("font-size", 92)
      .text(d[0])
})

// side note
svg.append("text")
    .attr("text-anchor", "middle")
    .attr("font-family", "'Liberation Sans', Arial, sans-serif")
    .attr("font-weight", "bold")
    .attr("font-size", 79)
    .selectAll("tspan").data(["unknown", "radial velocity"]).join("tspan")
    .attr("x", 297)
    .attr("y", function(d, i) { return 1318 + i * 98 })
    .text(function(d) { return d })

// legend
var leg = svg.append("g")
leg.append("rect")
    .attr("x", 864).attr("y", 1171).attr("width", 806).attr("height", 335)
    .attr("rx", 12).attr("ry", 12)
    .attr("fill", "#fff").attr("fill-opacity", 0.8)
    .attr("stroke", "#333").attr("stroke-width", 3.5)
legendLabels.forEach(function(lab, k) {
  var cy = 1229 + k * 105
  leg.append("line")
      .attr("x1", 885).attr("x2", 1036).attr("y1", cy).attr("y2", cy)
      .attr("stroke", seriesColors[k]).attr("stroke-width", lw)
      .attr("stroke-dasharray", dashes[k])
  var t = leg.append("text")
      .attr("x", 1090).attr("y", cy + 24)
      .attr("font-family", tickFont).attr("font-size", 66)
  t.append("tspan").attr("font-style", "italic").text("v")
  t.append("tspan").attr("font-style", "italic").attr("font-size", 46).attr("dy", 13).text("r")
  t.append("tspan").attr("dy", -13).text(" = " + lab + " km/s")
})
</script>
</body>
</html>
